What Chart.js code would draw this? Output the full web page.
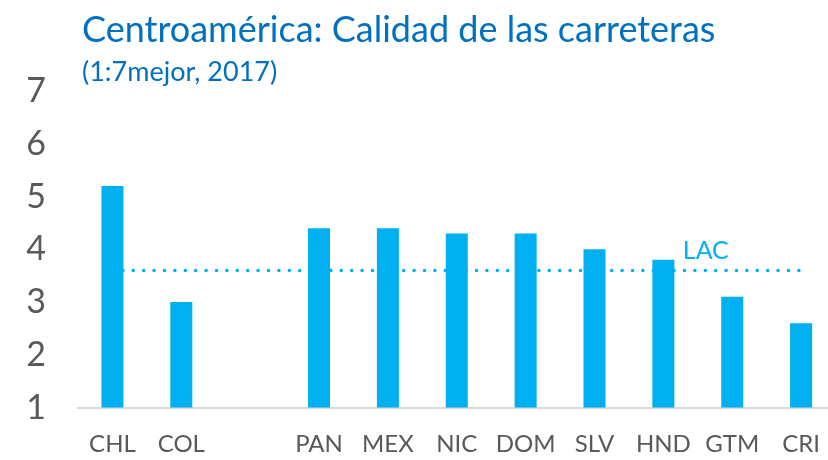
<!DOCTYPE html>
<html>
<head>
<meta charset="utf-8">
<script src="https://cdn.jsdelivr.net/npm/chart.js@4/dist/chart.umd.min.js"></script>
<style>
  html, body { margin: 0; padding: 0; background: #fff; }
  #wrap { width: 828px; height: 460px; overflow: hidden; }
</style>
</head>
<body>
<div id="wrap"><canvas id="chartRoads" width="842" height="460"></canvas></div>
<script>
const categories = ['CHL', 'COL', '', 'PAN', 'MEX', 'NIC', 'DOM', 'SLV', 'HND', 'GTM', 'CRI'];
const scores = [5.2, 3.0, null, 4.4, 4.4, 4.3, 4.3, 4.0, 3.8, 3.1, 2.6];
const lacAverage = [3.6, 3.6, 3.6, 3.6, 3.6, 3.6, 3.6, 3.6, 3.6, 3.6, 3.6];
const yTicks = [1, 2, 3, 4, 5, 6, 7];

const BLUE = '#00B0F0';
const TITLE_BLUE = '#0070C0';
const GREY = '#595959';
const FONT = 'Lato, "Open Sans", sans-serif';

// titulo y etiqueta LAC dibujados a mano
const textPlugin = {
  id: 'textPlugin',
  afterDraw(chart) {
    const ctx = chart.ctx;
    ctx.save();
    ctx.fillStyle = TITLE_BLUE;
    ctx.textBaseline = 'alphabetic';
    ctx.font = '36px ' + FONT;
    ctx.fillText('Centroamérica: Calidad de las carreteras', 82, 42);
    ctx.font = '27px ' + FONT;
    ctx.fillText('(1:7mejor, 2017)', 82, 81);

    const x = chart.scales.x;
    const y = chart.scales.y;
    ctx.fillStyle = BLUE;
    ctx.font = '25px ' + FONT;
    ctx.textAlign = 'center';
    const lx = (x.getPixelForValue(8) + x.getPixelForValue(9)) / 2 + 8;
    ctx.fillText('LAC', lx, y.getPixelForValue(lacAverage[0]) - 11);
    ctx.restore();
  }
};

new Chart(document.getElementById('chartRoads').getContext('2d'), {
  data: {
    labels: categories,
    datasets: [
      {
        type: 'bar',
        label: 'Calidad',
        data: scores,
        backgroundColor: BLUE,
        barPercentage: 0.32,
        categoryPercentage: 1,
        order: 1
      },
      {
        type: 'line',
        label: 'LAC',
        data: lacAverage,
        borderColor: BLUE,
        borderWidth: 3.5,
        borderDash: [0.1, 10.3],
        borderCapStyle: 'round',
        pointRadius: 0,
        fill: false,
        order: 2
      }
    ]
  },
  options: {
    responsive: false,
    animation: false,
    layout: { padding: { top: 91, right: 0, bottom: 0, left: 0 } },
    plugins: {
      legend: { display: false },
      tooltip: { enabled: false }
    },
    scales: {
      x: {
        afterFit(axis) { axis.height = 52; },
        grid: { display: false, drawTicks: false },
        border: { display: true, color: '#D9D9D9', width: 2 },
        ticks: { color: GREY, font: { family: FONT, size: 24 }, padding: 22, maxRotation: 0, autoSkip: false }
      },
      y: {
        min: 1,
        max: 7,
        afterBuildTicks(axis) { axis.ticks = yTicks.map(v => ({ value: v })); },
        afterFit(axis) { axis.width = 78; },
        grid: { display: false, drawTicks: false },
        border: { display: false },
        ticks: { color: GREY, font: { family: FONT, size: 34 }, padding: 32 }
      }
    }
  },
  plugins: [textPlugin]
});
</script>
</body>
</html>
